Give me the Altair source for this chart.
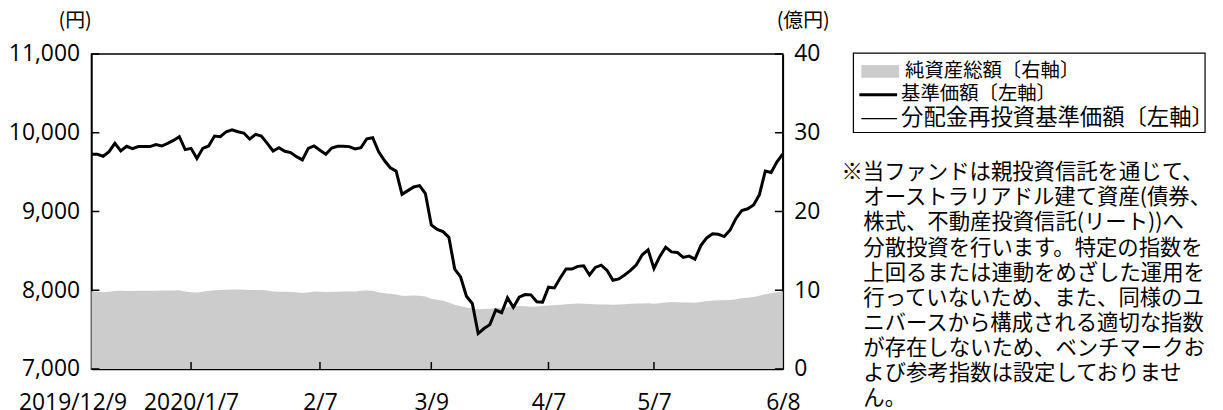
import altair as alt
import pandas as pd

# ---- data ----
tick_pos = [0, 17, 39, 58, 78, 96, 118]
tick_labels = ["2019/12/9", "2020/1/7", "2/7", "3/9", "4/7", "5/7", "6/8"]

price = [
    9727, 9727, 9702, 9760, 9866, 9769, 9828, 9798, 9824, 9824,
    9824, 9849, 9832, 9866, 9903, 9950, 9786, 9802, 9672, 9802,
    9832, 9958, 9950, 10013, 10038, 10013, 9996, 9920, 9979, 9958,
    9866, 9769, 9811, 9765, 9748, 9697, 9655, 9802, 9832, 9777,
    9727, 9807, 9828, 9828, 9824, 9794, 9811, 9924, 9937, 9760,
    9647, 9555, 9513, 9218, 9265, 9311, 9328, 9227, 8828, 8773,
    8744, 8672, 8269, 8168, 7924, 7832, 7450, 7513, 7563, 7748,
    7714, 7903, 7782, 7912, 7945, 7941, 7853, 7849, 8038, 8029,
    8155, 8269, 8269, 8303, 8311, 8193, 8290, 8319, 8252, 8126,
    8143, 8193, 8252, 8324, 8450, 8513, 8277, 8429, 8546, 8487,
    8479, 8416, 8433, 8395, 8567, 8664, 8718, 8710, 8681, 8765,
    8912, 9013, 9034, 9084, 9214, 9513, 9496, 9630, 9731,
]

assets = [
    9.87, 9.80, 9.75, 9.80, 9.90, 9.92, 9.90, 9.90, 9.92, 9.92,
    9.93, 9.93, 9.95, 9.95, 9.97, 10.00, 9.85, 9.75, 9.70, 9.80,
    9.90, 10.00, 10.04, 10.05, 10.08, 10.08, 10.06, 10.04, 10.03, 10.04,
    9.95, 9.83, 9.82, 9.80, 9.78, 9.75, 9.66, 9.72, 9.83, 9.80,
    9.76, 9.79, 9.82, 9.83, 9.83, 9.85, 9.93, 9.96, 9.92, 9.75,
    9.62, 9.55, 9.45, 9.30, 9.30, 9.32, 9.30, 9.20, 8.90, 8.80,
    8.65, 8.45, 8.15, 7.95, 7.80, 7.68, 7.58, 7.60, 7.65, 7.70,
    7.75, 7.85, 7.95, 7.98, 7.95, 7.90, 7.92, 8.00, 8.05, 8.10,
    8.15, 8.22, 8.28, 8.30, 8.28, 8.25, 8.22, 8.20, 8.18, 8.16,
    8.18, 8.22, 8.27, 8.30, 8.32, 8.35, 8.28, 8.35, 8.45, 8.49,
    8.47, 8.45, 8.43, 8.42, 8.50, 8.60, 8.70, 8.72, 8.74, 8.76,
    8.85, 9.00, 9.05, 9.15, 9.30, 9.50, 9.60, 9.75, 9.85,
]

left_ticks = [7000, 8000, 9000, 10000, 11000]
right_ticks = [0, 10, 20, 30, 40]

legend_items = ["純資産総額〔右軸〕", "基準価額〔左軸〕", "分配金再投資基準価額〔左軸〕"]
note_first = "※当ファンドは親投資信託を通じて、"
note_rest = [
    "オーストラリアドル建て資産(債券、",
    "株式、不動産投資信託(リート))へ",
    "分散投資を行います。特定の指数を",
    "上回るまたは連動をめざした運用を",
    "行っていないため、また、同様のユ",
    "ニバースから構成される適切な指数",
    "が存在しないため、ベンチマークお",
    "よび参考指数は設定しておりませ",
    "ん。",
]

# ---- layout ----
W, H = 696, 317
NUM_FONT = "Open Sans"
JP_FONT = "Noto Sans CJK JP"

df = pd.DataFrame({"i": list(range(len(price))), "price": price, "assets": assets})

label_expr = "''"
for p, l in reversed(list(zip(tick_pos, tick_labels))):
    label_expr = f"datum.value == {p} ? '{l}' : ({label_expr})"

x_enc = alt.X(
    "i:Q",
    scale=alt.Scale(domain=[0, len(price) - 1], nice=False, zero=False),
    axis=alt.Axis(
        values=tick_pos, labelExpr=label_expr, ticks=False, tickSize=0, grid=False,
        title=None, labelFont=NUM_FONT, labelFontSize=23, labelColor="black",
        labelPadding=23, labelFlush=False, labelOverlap=False, labelBound=False,
        labelOffset={"condition": {"test": "datum.value == 0", "value": -19}, "value": 0},
        domainColor="black", domainWidth=1.5,
    ),
)

y_left = alt.Y(
    "price:Q",
    scale=alt.Scale(domain=[7000, 11000], nice=False, zero=False),
    axis=alt.Axis(
        values=left_ticks, labelExpr="format(datum.value, ',')", ticks=False, tickSize=0,
        grid=False, labelFont=NUM_FONT, labelFontSize=23, labelColor="black", labelPadding=12,
        domainColor="black", domainWidth=1.5,
        title="(円)", titleAngle=0, titleX=-17, titleY=-34, titleAlign="center",
        titleBaseline="middle", titleFont=JP_FONT, titleFontSize=20,
        titleFontWeight="normal", titleColor="black",
    ),
)

y_right = alt.Y(
    "assets:Q",
    scale=alt.Scale(domain=[0, 40], nice=False, zero=True),
    axis=alt.Axis(
        orient="right", values=right_ticks, ticks=False, tickSize=0, grid=False,
        labelFont=NUM_FONT, labelFontSize=23, labelColor="black", labelPadding=11,
        domainColor="black", domainWidth=1.5,
        title="(億円)", titleAngle=0, titleX=20, titleY=-34, titleAlign="center",
        titleBaseline="middle", titleFont=JP_FONT, titleFontSize=20,
        titleFontWeight="normal", titleColor="black",
    ),
)

area = alt.Chart(df).mark_area(color="#cccccc", interpolate="linear").encode(x=x_enc, y=y_right)

thin = alt.Chart(df).mark_line(color="black", strokeWidth=1).encode(x=x_enc, y=y_left)
thick = alt.Chart(df).mark_line(color="black", strokeWidth=3, strokeJoin="miter").encode(x=x_enc, y=y_left)

lt = pd.DataFrame({"price": left_ticks})
left_tick_rules = alt.Chart(lt).mark_rule(color="black", strokeWidth=1.5).encode(
    y=y_left, x=alt.value(0), x2=alt.value(8)
)
right_tick_rules = alt.Chart(lt).mark_rule(color="black", strokeWidth=1.5).encode(
    y=y_left, x=alt.value(W - 8), x2=alt.value(W)
)
xt = pd.DataFrame({"i": tick_pos[1:-1]})
x_tick_rules = alt.Chart(xt).mark_rule(color="black", strokeWidth=1.5).encode(
    x=x_enc, y=alt.value(H), y2=alt.value(H - 7)
)

one = pd.DataFrame({"k": [0]})
base1 = alt.Chart(one)

# legend box
box = base1.mark_rect(fill="white", stroke="black", strokeWidth=1.2).encode(
    x=alt.value(767), x2=alt.value(1121), y=alt.value(-1), y2=alt.value(79)
)
swatch = base1.mark_rect(fill="#cccccc").encode(
    x=alt.value(775), x2=alt.value(813), y=alt.value(11), y2=alt.value(24)
)
leg_thick = base1.mark_rule(color="black", strokeWidth=3).encode(
    x=alt.value(773), x2=alt.value(811), y=alt.value(41)
)
leg_thin = base1.mark_rule(color="black", strokeWidth=1.2).encode(
    x=alt.value(775), x2=alt.value(811), y=alt.value(65)
)
leg_t1 = base1.mark_text(align="left", baseline="middle", font=JP_FONT, fontSize=19.5, color="black").encode(
    x=alt.value(819), y=alt.value(17), text=alt.value(legend_items[0])
)
leg_t2 = base1.mark_text(align="left", baseline="middle", font=JP_FONT, fontSize=19.5, color="black").encode(
    x=alt.value(815), y=alt.value(40), text=alt.value(legend_items[1])
)
leg_t3 = base1.mark_text(align="left", baseline="middle", font=JP_FONT, fontSize=22.5, color="black").encode(
    x=alt.value(815), y=alt.value(64), text=alt.value(legend_items[2])
)

note1 = base1.mark_text(align="left", baseline="middle", font=JP_FONT, fontSize=21.5, color="black").encode(
    x=alt.value(755), y=alt.value(120), text=alt.value(note_first)
)
note2 = base1.mark_text(
    align="left", baseline="middle", font=JP_FONT, fontSize=21.5, color="black", lineHeight=25.3
).encode(x=alt.value(777), y=alt.value(145.3), text=alt.value(note_rest))

left_group = alt.layer(thin, thick, left_tick_rules, right_tick_rules, x_tick_rules)

chart = (
    alt.layer(area, left_group, box, swatch, leg_thick, leg_thin, leg_t1, leg_t2, leg_t3, note1, note2)
    .resolve_scale(y="independent")
    .properties(
        width=W, height=H,
        autosize=alt.AutoSizeParams(type="none"),
        padding={"left": 84, "top": 45, "right": 435, "bottom": 40},
        background="white",
    )
    .configure_view(stroke="black", strokeWidth=1.5)
)

chart.save("out.html", embed_options={"renderer": "svg", "actions": False})
